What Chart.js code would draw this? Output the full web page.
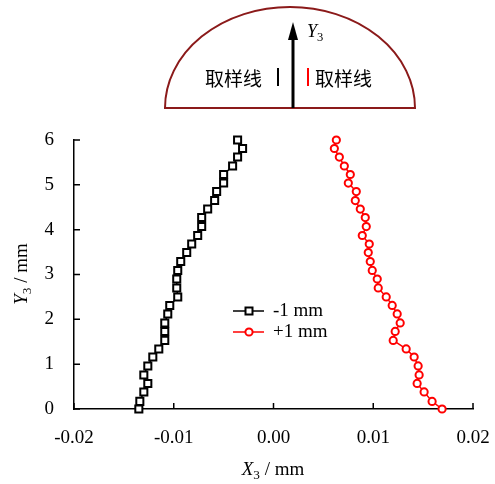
<!DOCTYPE html>
<html lang="zh">
<head>
    <meta charset="UTF-8">
    <title>X3 profile</title>
    <style>
        body { margin: 0; background: #ffffff; }
        .wrap { width: 495px; height: 484px; position: relative; }
    </style>
</head>
<body>
    <div class="wrap">
        <canvas id="profile-chart" width="495" height="484"></canvas>
    </div>

    <script src="https://cdn.jsdelivr.net/npm/chart.js"></script>
    <script>
        // Y3 levels (mm), shared by both series, bottom to top
        const yLevels = [0, 0.17, 0.38, 0.57, 0.76, 0.96, 1.16, 1.34, 1.53, 1.73, 1.92, 2.12, 2.31, 2.50, 2.70, 2.90,
                         3.09, 3.29, 3.49, 3.68, 3.87, 4.07, 4.27, 4.46, 4.65, 4.85, 5.04, 5.23, 5.42, 5.62, 5.81, 6.0];
        // X3 (mm) for the -1 mm sampling line
        const minusX = [-0.0135, -0.0134, -0.0130, -0.0126, -0.0130, -0.0126, -0.0121, -0.0115, -0.0109, -0.0109, -0.0109,
                        -0.0106, -0.0104, -0.0096, -0.0097, -0.0097, -0.0096, -0.0093, -0.0087, -0.0082, -0.0076, -0.0072,
                        -0.0072, -0.0066, -0.0059, -0.0057, -0.0050, -0.0050, -0.0041, -0.0036, -0.0031, -0.0036];
        // X3 (mm) for the +1 mm sampling line
        const plusX = [0.0169, 0.0159, 0.0151, 0.0144, 0.0146, 0.0145, 0.0141, 0.0133, 0.0120, 0.0122, 0.0127, 0.0124,
                       0.0119, 0.0113, 0.0105, 0.0104, 0.0099, 0.0097, 0.0095, 0.0096, 0.0089, 0.0093, 0.0092, 0.0087,
                       0.0082, 0.0083, 0.0075, 0.0077, 0.0071, 0.0066, 0.0061, 0.0063];
        const seriesNames = ['-1 mm', '+1 mm'];
        const xTicks = [-0.02, -0.01, 0, 0.01, 0.02];
        const yTicks = [0, 1, 2, 3, 4, 5, 6];

        const serif = '"Liberation Serif", "DejaVu Serif", serif';
        const cjk = '"Noto Sans CJK SC", "Noto Sans", sans-serif';

        function toPoints(xs) {
            return xs.map((x, i) => ({ x: x, y: yLevels[i] }));
        }

        // italic letter + subscript "3" + optional rest
        function subLabel(ctx, x, y, letter, rest, size, align) {
            ctx.save();
            ctx.textBaseline = 'middle';
            ctx.font = 'italic ' + size + 'px ' + serif;
            const w1 = ctx.measureText(letter).width;
            ctx.font = (size * 0.7) + 'px ' + serif;
            const w2 = ctx.measureText('3').width;
            ctx.font = size + 'px ' + serif;
            const w3 = rest ? ctx.measureText(rest).width : 0;
            let sx = x;
            if (align === 'center') sx = x - (w1 + w2 + w3) / 2;
            ctx.textAlign = 'left';
            ctx.font = 'italic ' + size + 'px ' + serif;
            ctx.fillText(letter, sx, y);
            ctx.font = (size * 0.7) + 'px ' + serif;
            ctx.fillText('3', sx + w1, y + size * 0.3);
            if (rest) {
                ctx.font = size + 'px ' + serif;
                ctx.fillText(rest, sx + w1 + w2, y);
            }
            ctx.restore();
        }

        const decorPlugin = {
            id: 'decor',
            beforeDatasetsDraw(chart) {
                const ctx = chart.ctx;
                const xs = chart.scales.x, ys = chart.scales.y;
                const area = chart.chartArea;
                ctx.save();
                ctx.strokeStyle = '#000';
                ctx.lineWidth = 1.5;
                ctx.beginPath();
                xTicks.forEach(v => {
                    const px = xs.getPixelForValue(v);
                    ctx.moveTo(px, area.bottom);
                    ctx.lineTo(px, area.bottom - 6);
                });
                yTicks.forEach(v => {
                    const py = ys.getPixelForValue(v);
                    ctx.moveTo(area.left, py);
                    ctx.lineTo(area.left + 6, py);
                });
                ctx.stroke();
                ctx.restore();
            },
            afterDraw(chart) {
                const ctx = chart.ctx;
                ctx.save();

                // half-ellipse sketch on top
                ctx.strokeStyle = '#8b1a1a';
                ctx.lineWidth = 2;
                ctx.beginPath();
                ctx.ellipse(290, 108, 125, 101, 0, Math.PI, 2 * Math.PI);
                ctx.closePath();
                ctx.stroke();

                // Y3 arrow
                ctx.strokeStyle = '#000';
                ctx.fillStyle = '#000';
                ctx.lineWidth = 3;
                ctx.beginPath();
                ctx.moveTo(293, 108);
                ctx.lineTo(293, 36);
                ctx.stroke();
                ctx.beginPath();
                ctx.moveTo(293, 22);
                ctx.lineTo(298, 40);
                ctx.lineTo(288, 40);
                ctx.closePath();
                ctx.fill();
                subLabel(ctx, 307, 32, 'Y', '', 18, 'left');

                // sampling lines
                ctx.font = '19px ' + cjk;
                ctx.textBaseline = 'middle';
                ctx.textAlign = 'left';
                ctx.fillText('取样线', 205, 79);
                ctx.fillText('取样线', 315, 79);
                ctx.fillRect(277, 68, 2, 18);
                ctx.fillStyle = '#ff0000';
                ctx.fillRect(307, 68, 2, 18);

                // legend
                const rows = [
                    { y: 311, color: '#000', style: 'rect' },
                    { y: 332, color: '#ff0000', style: 'circle' }
                ];
                rows.forEach((r, i) => {
                    ctx.strokeStyle = r.color;
                    ctx.lineWidth = 1.5;
                    ctx.beginPath();
                    ctx.moveTo(233, r.y);
                    ctx.lineTo(264, r.y);
                    ctx.stroke();
                    ctx.fillStyle = '#fff';
                    ctx.lineWidth = 2;
                    ctx.beginPath();
                    if (r.style === 'rect') ctx.rect(245.5, r.y - 3.5, 7, 7);
                    else ctx.arc(249, r.y, 3.6, 0, Math.PI * 2);
                    ctx.fill();
                    ctx.stroke();
                    ctx.fillStyle = '#000';
                    ctx.font = '19px ' + serif;
                    ctx.textBaseline = 'middle';
                    ctx.fillText(seriesNames[i], 273, r.y);
                });

                // axis titles
                ctx.fillStyle = '#000';
                subLabel(ctx, 273, 470, 'X', ' / mm', 19, 'center');
                ctx.translate(22, 274);
                ctx.rotate(-Math.PI / 2);
                subLabel(ctx, 0, 0, 'Y', ' / mm', 19, 'center');
                ctx.restore();
            }
        };

        const ctx = document.getElementById('profile-chart').getContext('2d');
        const chart = new Chart(ctx, {
            type: 'scatter',
            data: {
                datasets: [
                    {
                        label: seriesNames[0],
                        data: toPoints(minusX),
                        showLine: true,
                        borderColor: '#000000',
                        borderWidth: 1.5,
                        pointStyle: 'rect',
                        pointRadius: 5,
                        pointBorderWidth: 2,
                        pointBackgroundColor: '#ffffff',
                        pointBorderColor: '#000000',
                        tension: 0,
                        clip: false
                    },
                    {
                        label: seriesNames[1],
                        data: toPoints(plusX),
                        showLine: true,
                        borderColor: '#ff0000',
                        borderWidth: 1.5,
                        pointStyle: 'circle',
                        pointRadius: 3.6,
                        pointBorderWidth: 2,
                        pointBackgroundColor: '#ffffff',
                        pointBorderColor: '#ff0000',
                        tension: 0,
                        clip: false
                    }
                ]
            },
            options: {
                responsive: false,
                animation: false,
                devicePixelRatio: 1,
                layout: {
                    padding: { top: 140, right: 22, left: 0, bottom: 0 }
                },
                plugins: {
                    legend: { display: false },
                    tooltip: { enabled: false }
                },
                scales: {
                    x: {
                        type: 'linear',
                        min: -0.02,
                        max: 0.02,
                        afterFit: s => {
                            s.height = 75;
                            s.paddingLeft = 0;
                            s.paddingRight = 0;
                        },
                        afterBuildTicks: s => { s.ticks = xTicks.map(v => ({ value: v })); },
                        border: { display: true, color: '#000', width: 1.5 },
                        grid: { display: false, drawTicks: false },
                        ticks: {
                            color: '#000',
                            padding: 18,
                            maxRotation: 0,
                            font: { family: serif, size: 19 },
                            callback: v => v.toFixed(2)
                        }
                    },
                    y: {
                        type: 'linear',
                        min: 0,
                        max: 6,
                        afterFit: s => { s.width = 74; },
                        afterBuildTicks: s => { s.ticks = yTicks.map(v => ({ value: v })); },
                        border: { display: true, color: '#000', width: 1.5 },
                        grid: { display: false, drawTicks: false },
                        ticks: {
                            color: '#000',
                            padding: 20,
                            font: { family: serif, size: 19 },
                            callback: v => String(v)
                        }
                    }
                }
            },
            plugins: [decorPlugin]
        });
    </script>
</body>
</html>
